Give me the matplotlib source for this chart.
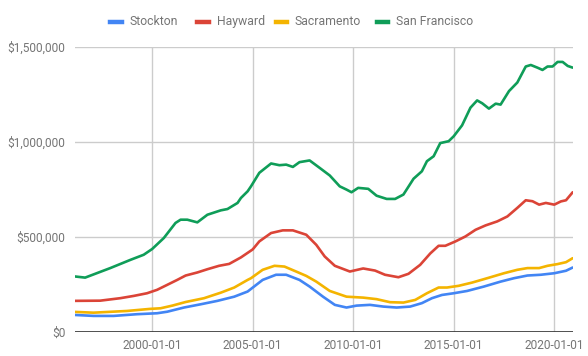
import matplotlib
matplotlib.use("Agg")
import matplotlib.pyplot as plt
import matplotlib.dates as mdates
from matplotlib.lines import Line2D
from matplotlib.ticker import FuncFormatter
import pandas as pd

series_names = ["Stockton", "Hayward", "Sacramento", "San Francisco"]
colors = ["#4285F4", "#DB4437", "#F4B400", "#0F9D58"]

stockton_dates = ["1996-03", "1997-02", "1998-02", "1999-04", "2000-04", "2000-10", "2001-08",
                  "2002-06", "2003-04", "2004-02", "2004-10", "2005-07", "2006-03", "2006-09",
                  "2007-05", "2007-11", "2008-07", "2009-02", "2009-09", "2010-03", "2010-11",
                  "2011-07", "2012-03", "2012-11", "2013-06", "2013-12", "2014-06", "2015-01",
                  "2015-09", "2016-07", "2017-05", "2018-01", "2018-09", "2019-05", "2020-01",
                  "2020-08", "2020-12"]
stockton_values = [91, 86, 86, 95, 100, 108, 130, 147, 165, 187, 214, 275, 302, 302,
                   275, 240, 187, 144, 130, 140, 144, 135, 130, 135, 153, 179, 196, 205,
                   217, 240, 266, 284, 298, 302, 310, 323, 340]

hayward_dates = ["1996-03", "1997-06", "1998-06", "1999-02", "1999-10", "2000-04", "2000-10",
                 "2001-04", "2001-09", "2002-04", "2002-10", "2003-05", "2003-11", "2004-06",
                 "2005-01", "2005-05", "2005-12", "2006-07", "2007-01", "2007-09", "2008-03",
                 "2008-08", "2009-02", "2009-11", "2010-07", "2011-02", "2011-08", "2012-04",
                 "2012-10", "2013-05", "2013-11", "2014-04", "2014-08", "2015-02", "2015-08",
                 "2016-02", "2016-08", "2017-03", "2017-09", "2018-03", "2018-08", "2018-12",
                 "2019-04", "2019-08", "2020-01", "2020-05", "2020-08", "2020-12"]
hayward_values = [165, 166, 179, 191, 205, 223, 249, 275, 298, 314, 331, 349, 359, 393,
                  435, 477, 521, 535, 535, 512, 459, 398, 349, 319, 335, 324, 302, 289,
                  307, 354, 414, 454, 454, 477, 503, 538, 561, 582, 608, 653, 693, 688,
                  670, 679, 670, 687, 693, 735]

sacramento_dates = ["1996-03", "1997-02", "1998-10", "1999-12", "2000-06", "2001-01", "2001-09",
                    "2002-08", "2003-06", "2004-02", "2004-10", "2004-12", "2005-07", "2006-02",
                    "2006-08", "2007-03", "2007-09", "2008-03", "2008-11", "2009-09", "2010-07",
                    "2011-03", "2011-11", "2012-07", "2013-02", "2013-09", "2014-04", "2014-09",
                    "2015-04", "2015-12", "2016-09", "2017-07", "2018-03", "2018-09", "2019-04",
                    "2019-09", "2020-03", "2020-08", "2020-12"]
sacramento_values = [107, 103, 112, 123, 126, 140, 159, 179, 208, 235, 275, 284, 328, 349,
                     345, 319, 296, 266, 217, 187, 182, 174, 158, 156, 170, 205, 235, 235,
                     244, 261, 284, 310, 328, 337, 337, 349, 358, 368, 389]

sf_dates = ["1996-03", "1996-09", "1997-12", "1998-12", "1999-08", "2000-01", "2000-08",
            "2001-03", "2001-06", "2001-10", "2002-04", "2002-10", "2003-06", "2003-10",
            "2004-04", "2004-06", "2004-10", "2004-12", "2005-05", "2005-12", "2006-05",
            "2006-09", "2007-01", "2007-05", "2007-11", "2008-05", "2008-11", "2009-05",
            "2009-09", "2009-12", "2010-04", "2010-10", "2011-03", "2011-09", "2012-02",
            "2012-07", "2013-01", "2013-06", "2013-09", "2014-01", "2014-05", "2014-10",
            "2015-01", "2015-06", "2015-11", "2016-03", "2016-06", "2016-10", "2017-02",
            "2017-05", "2017-10", "2018-03", "2018-08", "2018-11", "2019-03", "2019-06",
            "2019-09", "2019-12", "2020-03", "2020-06", "2020-09", "2020-12"]
sf_values = [293, 287, 337, 380, 407, 437, 495, 574, 591, 591, 577, 617, 640, 647,
             679, 705, 740, 766, 837, 886, 877, 880, 868, 893, 902, 863, 823, 766,
             749, 735, 758, 753, 717, 700, 700, 723, 806, 845, 898, 924, 993, 1003,
             1029, 1086, 1179, 1217, 1202, 1174, 1200, 1195, 1266, 1311, 1395, 1403, 1389, 1377,
             1395, 1395, 1419, 1419, 1398, 1389]

y_ticks = [0, 500000, 1000000, 1500000]
x_tick_labels = ["2000-01-01", "2005-01-01", "2010-01-01", "2015-01-01", "2020-01-01"]

all_dates = [stockton_dates, hayward_dates, sacramento_dates, sf_dates]
all_values = [stockton_values, hayward_values, sacramento_values, sf_values]

plt.rcParams['font.family'] = ['Roboto', 'DejaVu Sans']
W, H = 588, 356
fig = plt.figure(figsize=(W / 100, H / 100), dpi=100)
left, right, bottom_px, top_px = 75, 572.7, 332.3, 46.5
ax = fig.add_axes([left / W, (H - bottom_px) / H, (right - left) / W, (bottom_px - top_px) / H])

for d, v, c in zip(all_dates, all_values, colors):
    ax.plot(pd.to_datetime(d), [x * 1000 for x in v], color=c, lw=1.9, solid_joinstyle='round',
            solid_capstyle='round', zorder=3)

first = pd.to_datetime(stockton_dates[0])
last = pd.to_datetime(stockton_dates[-1])
ax.set_xlim(first, last)
ax.set_ylim(0, 1500000)
ax.set_yticks(y_ticks)
ax.yaxis.set_major_formatter(FuncFormatter(lambda v, p: "${:,.0f}".format(v)))
ax.set_xticks(pd.to_datetime(x_tick_labels))
ax.set_xticklabels(x_tick_labels)

text_color = "#757575"
ax.tick_params(axis='both', length=0, labelsize=8.6, labelcolor=text_color)
ax.tick_params(axis='y', pad=7)
ax.tick_params(axis='x', pad=5)
for s in ax.spines.values():
    s.set_visible(False)
ax.grid(True, color="#cccccc", lw=1.0, zorder=0)
ax.set_axisbelow(True)
ax.axhline(0, color="#333333", lw=1.2, zorder=4)

# legend
leg_x = [110, 197.3, 275.5, 376.7]
leg_y = 1 - 21.7 / H
for lx, name, c in zip(leg_x, series_names, colors):
    fig.add_artist(Line2D([lx / W, (lx + 11.5) / W], [leg_y, leg_y], color=c, lw=3.2,
                          transform=fig.transFigure))
    fig.text((lx + 19.5) / W, leg_y, name, color=text_color, fontsize=8.8, va='center', ha='left')

fig.savefig("out.png", dpi=100)
